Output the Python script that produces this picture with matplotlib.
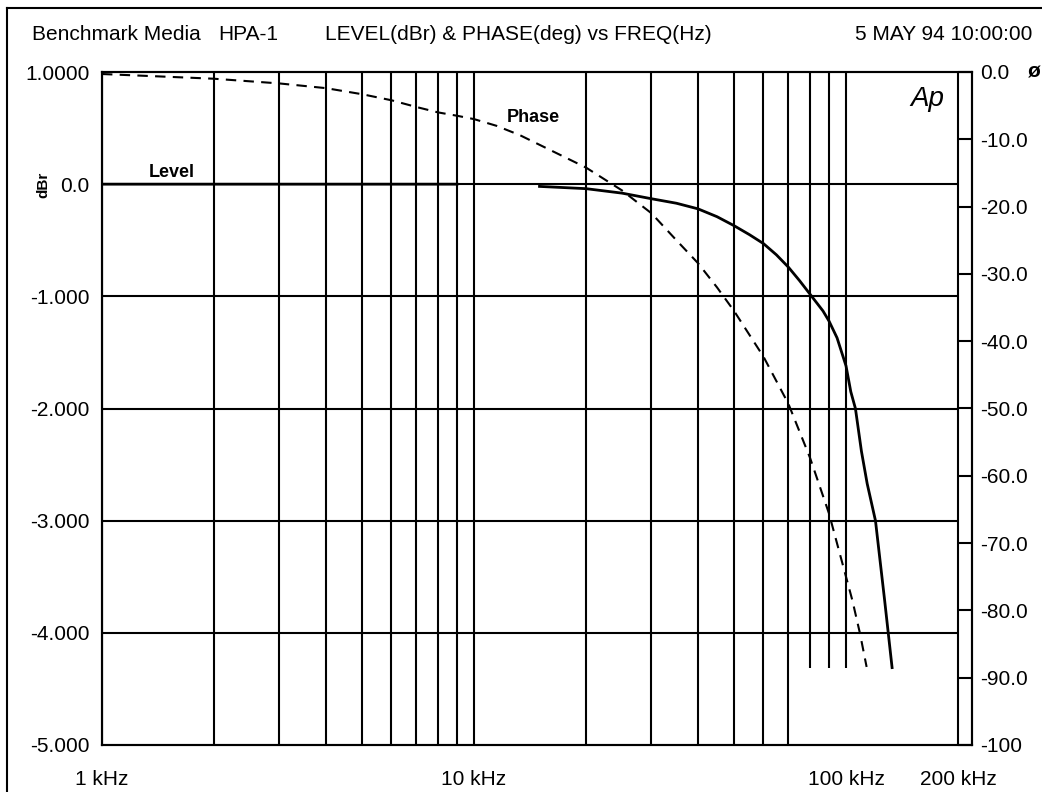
import numpy as np
import matplotlib
matplotlib.use("Agg")
from matplotlib import pyplot as plt

# level response (dBr); nan marks the gap in the trace
level_freq = [1000, 2000, 5000, 9000, 12000, 15000, 20000, 25000, 30000, 35000,
              40000, 45000, 50000, 55000, 60000, 65000, 70000, 75000, 80000,
              86700, 90000, 94600, 100000, 103000, 106000, 110000, 114000,
              120000, 127000, 133000]
level_dbr = [0.0, 0.0, 0.0, 0.0, np.nan, -0.02, -0.04, -0.08, -0.13, -0.17,
             -0.22, -0.29, -0.37, -0.45, -0.53, -0.63, -0.74, -0.86, -0.98,
             -1.13, -1.22, -1.37, -1.62, -1.85, -2.0, -2.38, -2.67,
             -3.0, -3.71, -4.31]

# phase response (deg)
phase_freq = [1000, 2000, 3000, 4000, 5000, 6000, 7000, 8000, 9000, 10000,
              11500, 13300, 20000, 25000, 30000, 35000, 40000, 45000, 50000,
              60000, 70000, 80000, 90000, 100000, 104000, 109000, 113600]
phase_deg = [-0.3, -1.0, -1.7, -2.4, -3.3, -4.2, -5.2, -6.0, -6.5, -7.0,
             -8.0, -9.4, -14.2, -17.6, -21.0, -25.0, -28.4, -32.0, -35.5,
             -42.3, -49.3, -57.3, -65.6, -75.0, -78.5, -83.4, -88.4]

grid_freqs = [1000, 2000, 3000, 4000, 5000, 6000, 7000, 8000, 9000, 10000,
              20000, 30000, 40000, 50000, 60000, 70000, 200000]
short_grid_freqs = [80000, 90000, 100000]   # cut short above the logo
level_ticks = [-5, -4, -3, -2, -1, 0, 1]
level_labels = ["-5.000", "-4.000", "-3.000", "-2.000", "-1.000", "0.0", "1.0000"]
phase_ticks = [-100, -90, -80, -70, -60, -50, -40, -30, -20, -10, 0]
phase_labels = ["-100", "-90.0", "-80.0", "-70.0", "-60.0", "-50.0", "-40.0",
                "-30.0", "-20.0", "-10.0", "0.0"]
freq_ticks = [1000, 10000, 100000, 200000]
freq_labels = ["1 kHz", "10 kHz", "100 kHz", "200 kHz"]

W, H = 1042, 792
FONT = "Liberation Sans"
FS = 15


def fx(px):
    return px / W


def fy(py):
    return 1 - py / H


def main():
    plt.rcParams['font.family'] = [FONT, 'DejaVu Sans']
    fig = plt.figure(figsize=(W / 100, H / 100), dpi=100)
    ax = fig.add_axes([fx(102), fy(745), fx(972) - fx(102), fy(72) - fy(745)])

    # 200 kHz sits 14 px left of the right spine
    xmax = 200000 * 10 ** (14 / 372.0)
    ax.set_xscale("log")
    ax.set_xlim(1000, xmax)
    ax.set_ylim(-5, 1)

    lw = 1.5
    ax.vlines(grid_freqs, -5, 1, color="black", lw=lw)
    ax.vlines(short_grid_freqs, -4.31, 1, color="black", lw=lw)
    ax.hlines([-4, -3, -2, -1, 0], 1000, 200000, color="black", lw=lw)

    ax.plot(level_freq, level_dbr, color="black", lw=2.0)

    ax.set_yticks(level_ticks)
    ax.set_yticklabels(level_labels)
    ax.set_xticks(freq_ticks)
    ax.set_xticklabels(freq_labels)
    ax.xaxis.set_minor_locator(matplotlib.ticker.NullLocator())
    ax.tick_params(axis="both", length=0, labelsize=FS)
    ax.tick_params(axis="x", pad=18)
    ax.tick_params(axis="y", pad=9)
    for s in ax.spines.values():
        s.set_linewidth(lw)

    ax2 = ax.twinx()
    ax2.set_ylim(-100, 0)
    ax2.plot(phase_freq, phase_deg, color="black", lw=1.5, dashes=(5, 3.5))
    ax2.set_yticks(phase_ticks)
    ax2.set_yticklabels(phase_labels)
    ax2.tick_params(axis="y", direction="in", length=10, width=lw,
                    labelsize=FS, pad=6)
    for s in ax2.spines.values():
        s.set_linewidth(lw)

    ax.text(1540, 0.03, "Level", fontsize=13, fontweight="bold",
            family=["Liberation Sans Narrow", FONT], ha="center", va="bottom")
    ax2.text(14400, -6.8, "Phase", fontsize=13, fontweight="bold",
             family=["Liberation Sans Narrow", FONT], ha="center", va="center")
    ax.text(fx(927), fy(99), "Ap", transform=fig.transFigure, fontsize=20,
            style="italic", ha="center", va="center")

    # header
    fig.text(fx(32), fy(35), "Benchmark Media", fontsize=FS, va="center")
    fig.text(fx(218), fy(35), "HPA-1", fontsize=FS, va="center")
    fig.text(fx(325), fy(35), "LEVEL(dBr) & PHASE(deg) vs FREQ(Hz)",
             fontsize=FS, va="center")
    fig.text(fx(1032), fy(35), "5 MAY 94 10:00:00", fontsize=FS,
             va="center", ha="right")
    fig.text(fx(43), fy(185), "dBr", fontsize=11, fontweight="bold",
             rotation=90, ha="center", va="center")
    fig.text(fx(1034), fy(72), "ø", fontsize=FS, fontweight="bold",
             ha="center", va="center")

    # outer frame, top and left edges
    fig.add_artist(plt.Line2D([fx(7), fx(7)], [fy(8), 0], color="black",
                              lw=1.5, transform=fig.transFigure))
    fig.add_artist(plt.Line2D([fx(7), 1], [fy(8), fy(8)], color="black",
                              lw=1.5, transform=fig.transFigure))

    fig.savefig("out.png", dpi=100)


if __name__ == '__main__':
    main()
